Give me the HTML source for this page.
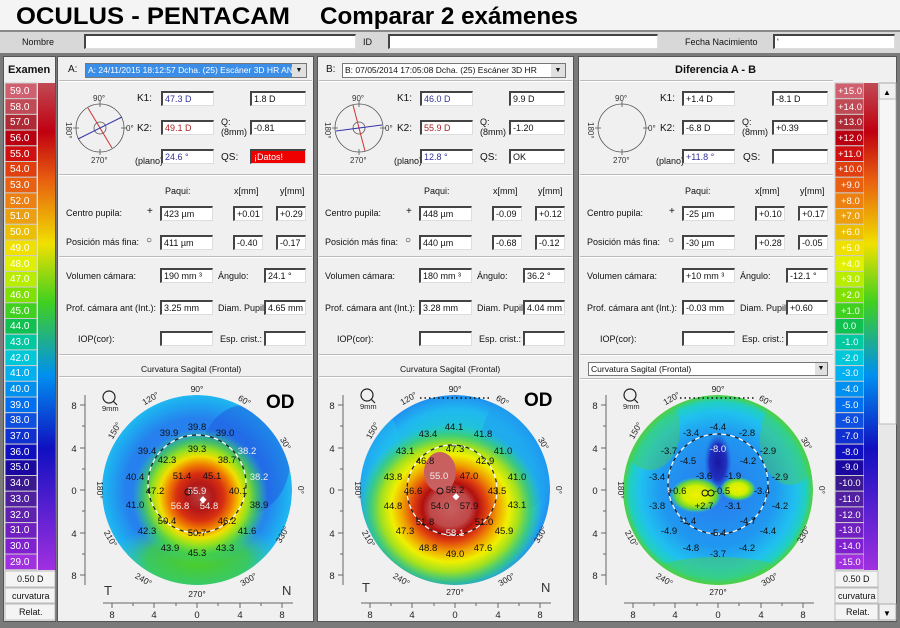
<!DOCTYPE html>
<html><head><meta charset="utf-8">
<style>
*{margin:0;padding:0;box-sizing:border-box}
body{width:900px;height:628px;background:#7a7a7a;position:relative;overflow:hidden;font-family:"Liberation Sans",sans-serif;font-size:9px;color:#111}
.a{position:absolute;white-space:nowrap}
.in{position:absolute;background:#fff;border-top:2px solid #444;border-left:2px solid #444;border-right:1px solid #ddd;border-bottom:1px solid #ddd;font-size:9px;padding-left:2px;line-height:12px;height:15px}
.pan{position:absolute;background:#f0f0f0;border:1px solid #555}
.hl{position:absolute;height:2px;background:#bbb;border-bottom:1px solid #fff}
</style></head><body>
<div class="a" style="left:0;top:0;width:900px;height:30px;background:#f4f4f4"></div>
<svg class="a" style="left:0;top:0" width="900" height="30" font-family="Liberation Sans, sans-serif"><text x="16" y="24" font-size="24" font-weight="bold" textLength="274" lengthAdjust="spacingAndGlyphs">OCULUS - PENTACAM</text><text x="320" y="24" font-size="24" font-weight="bold" textLength="258" lengthAdjust="spacingAndGlyphs">Comparar 2 exámenes</text></svg>
<div class="a" style="left:0;top:30px;width:900px;height:23px;background:#d8d8d8;border-top:2px solid #888"></div>
<div class="a" style="left:22px;top:37px">Nombre</div>
<div class="in" style="left:84px;top:34px;width:272px"></div>
<div class="a" style="left:363px;top:37px">ID</div>
<div class="in" style="left:388px;top:34px;width:270px"></div>
<div class="a" style="left:685px;top:37px">Fecha Nacimiento</div>
<div class="in" style="left:773px;top:34px;width:122px">'</div>

<div class="pan" style="left:3px;top:56px;width:53px;height:566px"></div>
<div class="pan" style="left:57px;top:56px;width:257px;height:566px"></div>
<div class="pan" style="left:317px;top:56px;width:257px;height:566px"></div>
<div class="pan" style="left:578px;top:56px;width:319px;height:566px"></div>

<div class="a" style="left:8px;top:64px;font-size:11px;font-weight:bold">Examen</div>
<div class="a" style="left:68px;top:64px;font-size:10px">A:</div>
<div class="a" style="left:85px;top:63px;width:222px;height:15px;background:#fff;border:1px solid #777"><div style="background:#3a8ee8;color:#fff;width:206px;height:13px;font-size:8.5px;padding-left:2px;line-height:13px;overflow:hidden">A: 24/11/2015 18:12:57 Dcha. (25) Escáner 3D HR AN</div><div style="position:absolute;right:0;top:0;width:14px;height:13px;background:#e0e0e0;font-size:7px;text-align:center;line-height:13px">▼</div></div>
<div class="a" style="left:326px;top:64px;font-size:10px">B:</div>
<div class="a" style="left:342px;top:63px;width:224px;height:15px;background:#fff;border:1px solid #777;font-size:8.5px;line-height:13px;padding-left:2px">B: 07/05/2014 17:05:08 Dcha. (25) Escáner 3D HR<div style="position:absolute;right:0;top:0;width:14px;height:13px;background:#e0e0e0;font-size:7px;text-align:center;line-height:13px">▼</div></div>
<div class="a" style="left:675px;top:64px;font-size:11px;font-weight:bold">Diferencia A - B</div>
<div class="hl" style="left:580px;top:80px;width:253px"></div>
<div class="hl" style="left:59px;top:80px;width:253px"></div>
<div class="hl" style="left:319px;top:80px;width:253px"></div>

<!-- Panel A fields -->
<div class="a" style="left:137px;top:93px;font-size:10px">K1:</div><div class="in" style="left:161px;top:91px;width:53px;color:#339">47.3 D</div><div class="in" style="left:250px;top:91px;width:56px">1.8 D</div>
<div class="a" style="left:137px;top:123px;font-size:10px">K2:</div><div class="in" style="left:161px;top:120px;width:53px;color:#a22">49.1 D</div>
<div class="a" style="left:221px;top:117px">Q:<br>(8mm)</div><div class="in" style="left:250px;top:120px;width:56px">-0.81</div>
<div class="a" style="left:135px;top:156px">(plano)</div><div class="in" style="left:161px;top:149px;width:53px;color:#339">24.6 °</div>
<div class="a" style="left:221px;top:152px;font-size:10px">QS:</div><div class="in" style="left:250px;top:149px;width:56px;background:#e00;color:#fff">¡Datos!</div>
<div class="hl" style="left:59px;top:174px;width:253px"></div>
<div class="a" style="left:165px;top:186px">Paqui:</div><div class="a" style="left:234px;top:186px">x[mm]</div><div class="a" style="left:280px;top:186px">y[mm]</div>
<div class="a" style="left:66px;top:208px">Centro pupila:</div><div class="a" style="left:147px;top:206px;font-size:10px">+</div><div class="in" style="left:160px;top:206px;width:53px">423 µm</div><div class="in" style="left:233px;top:206px;width:30px">+0.01</div><div class="in" style="left:276px;top:206px;width:30px">+0.29</div>
<div class="a" style="left:66px;top:237px">Posición más fina:</div><div class="a" style="left:146px;top:235px;font-size:10px">○</div><div class="in" style="left:160px;top:235px;width:53px">411 µm</div><div class="in" style="left:233px;top:235px;width:30px">-0.40</div><div class="in" style="left:276px;top:235px;width:30px">-0.17</div>
<div class="hl" style="left:59px;top:256px;width:253px"></div>
<div class="a" style="left:66px;top:271px">Volumen cámara:</div><div class="in" style="left:160px;top:268px;width:53px">190 mm ³</div><div class="a" style="left:218px;top:271px">Ángulo:</div><div class="in" style="left:264px;top:268px;width:42px">24.1 °</div>
<div class="a" style="left:66px;top:303px">Prof. cámara ant (Int.):</div><div class="in" style="left:160px;top:300px;width:53px">3.25 mm</div><div class="a" style="left:218px;top:303px">Diam. Pupil:</div><div class="in" style="left:264px;top:300px;width:42px">4.65 mm</div>
<div class="a" style="left:78px;top:334px">IOP(cor):</div><div class="in" style="left:160px;top:331px;width:53px"></div><div class="a" style="left:220px;top:334px">Esp. crist.:</div><div class="in" style="left:264px;top:331px;width:42px"></div>
<div class="hl" style="left:59px;top:354px;width:253px"></div>
<div class="a" style="left:141px;top:364px;font-size:8.5px">Curvatura Sagital (Frontal)</div>
<div class="hl" style="left:59px;top:376px;width:253px"></div>

<!-- Panel B fields -->
<div class="a" style="left:397px;top:93px;font-size:10px">K1:</div><div class="in" style="left:420px;top:91px;width:53px;color:#339">46.0 D</div><div class="in" style="left:509px;top:91px;width:56px">9.9 D</div>
<div class="a" style="left:397px;top:123px;font-size:10px">K2:</div><div class="in" style="left:420px;top:120px;width:53px;color:#a22">55.9 D</div>
<div class="a" style="left:480px;top:117px">Q:<br>(8mm)</div><div class="in" style="left:509px;top:120px;width:56px">-1.20</div>
<div class="a" style="left:394px;top:156px">(plano)</div><div class="in" style="left:420px;top:149px;width:53px;color:#339">12.8 °</div>
<div class="a" style="left:480px;top:152px;font-size:10px">QS:</div><div class="in" style="left:509px;top:149px;width:56px">OK</div>
<div class="hl" style="left:319px;top:174px;width:253px"></div>
<div class="a" style="left:424px;top:186px">Paqui:</div><div class="a" style="left:493px;top:186px">x[mm]</div><div class="a" style="left:538px;top:186px">y[mm]</div>
<div class="a" style="left:325px;top:208px">Centro pupila:</div><div class="a" style="left:406px;top:206px;font-size:10px">+</div><div class="in" style="left:419px;top:206px;width:53px">448 µm</div><div class="in" style="left:492px;top:206px;width:30px">-0.09</div><div class="in" style="left:535px;top:206px;width:30px">+0.12</div>
<div class="a" style="left:325px;top:237px">Posición más fina:</div><div class="a" style="left:405px;top:235px;font-size:10px">○</div><div class="in" style="left:419px;top:235px;width:53px">440 µm</div><div class="in" style="left:492px;top:235px;width:30px">-0.68</div><div class="in" style="left:535px;top:235px;width:30px">-0.12</div>
<div class="hl" style="left:319px;top:256px;width:253px"></div>
<div class="a" style="left:325px;top:271px">Volumen cámara:</div><div class="in" style="left:419px;top:268px;width:53px">180 mm ³</div><div class="a" style="left:477px;top:271px">Ángulo:</div><div class="in" style="left:523px;top:268px;width:42px">36.2 °</div>
<div class="a" style="left:325px;top:303px">Prof. cámara ant (Int.):</div><div class="in" style="left:419px;top:300px;width:53px">3.28 mm</div><div class="a" style="left:477px;top:303px">Diam. Pupil:</div><div class="in" style="left:523px;top:300px;width:42px">4.04 mm</div>
<div class="a" style="left:337px;top:334px">IOP(cor):</div><div class="in" style="left:419px;top:331px;width:53px"></div><div class="a" style="left:479px;top:334px">Esp. crist.:</div><div class="in" style="left:523px;top:331px;width:42px"></div>
<div class="hl" style="left:319px;top:354px;width:253px"></div>
<div class="a" style="left:400px;top:364px;font-size:8.5px">Curvatura Sagital (Frontal)</div>
<div class="hl" style="left:319px;top:376px;width:253px"></div>

<!-- Panel Diff fields -->
<div class="a" style="left:660px;top:93px;font-size:10px">K1:</div><div class="in" style="left:682px;top:91px;width:53px">+1.4 D</div><div class="in" style="left:772px;top:91px;width:56px">-8.1 D</div>
<div class="a" style="left:660px;top:123px;font-size:10px">K2:</div><div class="in" style="left:682px;top:120px;width:53px">-6.8 D</div>
<div class="a" style="left:742px;top:117px">Q:<br>(8mm)</div><div class="in" style="left:772px;top:120px;width:56px">+0.39</div>
<div class="a" style="left:656px;top:156px">(plano)</div><div class="in" style="left:682px;top:149px;width:53px;color:#339">+11.8 °</div>
<div class="a" style="left:743px;top:152px;font-size:10px">QS:</div><div class="in" style="left:772px;top:149px;width:56px"></div>
<div class="hl" style="left:580px;top:174px;width:253px"></div>
<div class="a" style="left:685px;top:186px">Paqui:</div><div class="a" style="left:755px;top:186px">x[mm]</div><div class="a" style="left:800px;top:186px">y[mm]</div>
<div class="a" style="left:587px;top:208px">Centro pupila:</div><div class="a" style="left:669px;top:206px;font-size:10px">+</div><div class="in" style="left:682px;top:206px;width:53px">-25 µm</div><div class="in" style="left:755px;top:206px;width:30px">+0.10</div><div class="in" style="left:798px;top:206px;width:30px">+0.17</div>
<div class="a" style="left:587px;top:237px">Posición más fina:</div><div class="a" style="left:668px;top:235px;font-size:10px">○</div><div class="in" style="left:682px;top:235px;width:53px">-30 µm</div><div class="in" style="left:755px;top:235px;width:30px">+0.28</div><div class="in" style="left:798px;top:235px;width:30px">-0.05</div>
<div class="hl" style="left:580px;top:256px;width:253px"></div>
<div class="a" style="left:587px;top:271px">Volumen cámara:</div><div class="in" style="left:682px;top:268px;width:53px">+10 mm ³</div><div class="a" style="left:740px;top:271px">Ángulo:</div><div class="in" style="left:786px;top:268px;width:42px">-12.1 °</div>
<div class="a" style="left:587px;top:303px">Prof. cámara ant (Int.):</div><div class="in" style="left:682px;top:300px;width:53px">-0.03 mm</div><div class="a" style="left:740px;top:303px">Diam. Pupil:</div><div class="in" style="left:786px;top:300px;width:42px;overflow:hidden">+0.60 mm</div>
<div class="a" style="left:600px;top:334px">IOP(cor):</div><div class="in" style="left:682px;top:331px;width:53px"></div><div class="a" style="left:742px;top:334px">Esp. crist.:</div><div class="in" style="left:786px;top:331px;width:42px"></div>
<div class="hl" style="left:580px;top:354px;width:253px"></div>
<div class="a" style="left:588px;top:362px;width:240px;height:14px;background:#fff;border:1px solid #777;font-size:8.5px;line-height:12px;padding-left:2px">Curvatura Sagital (Frontal)<div style="position:absolute;right:0;top:0;width:12px;height:12px;background:#e0e0e0;font-size:7px;text-align:center">▼</div></div>
<div class="hl" style="left:580px;top:378px;width:253px"></div>

<svg class="a" style="left:0;top:0" width="900" height="628" font-family="Liberation Sans, sans-serif">
<defs>
<radialGradient id="ga" cx="0.5" cy="0.5" r="0.5"><stop offset="0" stop-color="#2a7ef0"/><stop offset="0.75" stop-color="#2680ee"/><stop offset="0.92" stop-color="#1ea8f0"/><stop offset="1" stop-color="#20b8f0"/></radialGradient>
<radialGradient id="ga2" cx="0.5" cy="0.5" r="0.5"><stop offset="0" stop-color="#b54040"/><stop offset="0.2" stop-color="#b41818"/><stop offset="0.35" stop-color="#d83010"/><stop offset="0.48" stop-color="#f08000"/><stop offset="0.6" stop-color="#f0e000"/><stop offset="0.72" stop-color="#90e020"/><stop offset="0.85" stop-color="#40d050" stop-opacity="0.7"/><stop offset="1" stop-color="#30c8a0" stop-opacity="0"/></radialGradient>
<radialGradient id="gg" cx="0.5" cy="0.5" r="0.5"><stop offset="0" stop-color="#50d020"/><stop offset="0.6" stop-color="#40d040" stop-opacity="0.8"/><stop offset="1" stop-color="#30c8c0" stop-opacity="0"/></radialGradient>
<radialGradient id="gb" cx="0.5" cy="0.5" r="0.5"><stop offset="0" stop-color="#30d080"/><stop offset="0.6" stop-color="#20c8d0"/><stop offset="0.85" stop-color="#20b8f0"/><stop offset="1" stop-color="#2090f0"/></radialGradient>
<radialGradient id="gb2" cx="0.5" cy="0.5" r="0.5"><stop offset="0" stop-color="#c86060"/><stop offset="0.22" stop-color="#c04848"/><stop offset="0.3" stop-color="#b01010"/><stop offset="0.4" stop-color="#e04010"/><stop offset="0.52" stop-color="#f0a000"/><stop offset="0.64" stop-color="#f0f000"/><stop offset="0.76" stop-color="#a0e020"/><stop offset="0.88" stop-color="#40d060" stop-opacity="0.7"/><stop offset="1" stop-color="#30d0a0" stop-opacity="0"/></radialGradient>
<radialGradient id="gd" cx="0.5" cy="0.5" r="0.5"><stop offset="0" stop-color="#2a78f0"/><stop offset="0.6" stop-color="#2098f0"/><stop offset="0.82" stop-color="#20c0f0"/><stop offset="0.93" stop-color="#20d0c0"/><stop offset="1" stop-color="#50d040"/></radialGradient>
<radialGradient id="gy" cx="0.5" cy="0.5" r="0.5"><stop offset="0" stop-color="#f0f000"/><stop offset="0.5" stop-color="#d0f000"/><stop offset="0.8" stop-color="#60d040"/><stop offset="1" stop-color="#30c8c0" stop-opacity="0"/></radialGradient>
<radialGradient id="gdb" cx="0.5" cy="0.5" r="0.5"><stop offset="0" stop-color="#1818a0"/><stop offset="0.6" stop-color="#2030c0"/><stop offset="1" stop-color="#2070e0" stop-opacity="0"/></radialGradient>
<linearGradient id="lb" x1="0" y1="0" x2="0" y2="1"><stop offset="0" stop-color="#c04a55"/><stop offset="0.1" stop-color="#c00010"/><stop offset="0.2" stop-color="#e86010"/><stop offset="0.33" stop-color="#f0e000"/><stop offset="0.45" stop-color="#40d020"/><stop offset="0.6" stop-color="#0090f0"/><stop offset="0.75" stop-color="#1010c0"/><stop offset="1" stop-color="#a030e0"/></linearGradient>
<clipPath id="ca"><circle cx="197" cy="490" r="95"/></clipPath>
<clipPath id="cb"><circle cx="455" cy="490" r="95"/></clipPath>
<clipPath id="cd"><circle cx="718" cy="490" r="95"/></clipPath>
</defs>

<!-- left colorbar -->
<g font-size="10" fill="#fff">
<g stroke="#ccc" stroke-width="1">
<rect x="5" y="83" width="32" height="15.7" fill="#d06070"/><rect x="5" y="98.7" width="32" height="15.7" fill="#c04a55"/><rect x="5" y="114.4" width="32" height="15.7" fill="#b02a35"/><rect x="5" y="130.1" width="32" height="15.7" fill="#b80010"/><rect x="5" y="145.8" width="32" height="15.7" fill="#d01010"/><rect x="5" y="161.5" width="32" height="15.7" fill="#e04010"/><rect x="5" y="177.2" width="32" height="15.7" fill="#e86010"/><rect x="5" y="192.9" width="32" height="15.7" fill="#ec8010"/><rect x="5" y="208.6" width="32" height="15.7" fill="#eca010"/><rect x="5" y="224.3" width="32" height="15.7" fill="#ecc000"/><rect x="5" y="240" width="32" height="15.7" fill="#f0e000"/><rect x="5" y="255.7" width="32" height="15.7" fill="#e0f000"/><rect x="5" y="271.4" width="32" height="15.7" fill="#b8ec00"/><rect x="5" y="287.1" width="32" height="15.7" fill="#80e000"/><rect x="5" y="302.8" width="32" height="15.7" fill="#40d020"/><rect x="5" y="318.5" width="32" height="15.7" fill="#10c050"/><rect x="5" y="334.2" width="32" height="15.7" fill="#00c8a0"/><rect x="5" y="349.9" width="32" height="15.7" fill="#00c8d8"/><rect x="5" y="365.6" width="32" height="15.7" fill="#00b0f0"/><rect x="5" y="381.3" width="32" height="15.7" fill="#0090f0"/><rect x="5" y="397" width="32" height="15.7" fill="#0070f0"/><rect x="5" y="412.7" width="32" height="15.7" fill="#1050e0"/><rect x="5" y="428.4" width="32" height="15.7" fill="#1030d0"/><rect x="5" y="444.1" width="32" height="15.7" fill="#1010c0"/><rect x="5" y="459.8" width="32" height="15.7" fill="#1a08a0"/><rect x="5" y="475.5" width="32" height="15.7" fill="#3a1890"/><rect x="5" y="491.2" width="32" height="15.7" fill="#5020a0"/><rect x="5" y="506.9" width="32" height="15.7" fill="#6020b0"/><rect x="5" y="522.6" width="32" height="15.7" fill="#7020c0"/><rect x="5" y="538.3" width="32" height="15.7" fill="#8020d0"/><rect x="5" y="554" width="32" height="15.7" fill="#a030e0"/>
</g>
<rect x="38" y="83" width="17" height="487" fill="url(#lb)"/>
<text x="10" y="94">59.0</text><text x="10" y="110">58.0</text><text x="10" y="125">57.0</text><text x="10" y="141">56.0</text><text x="10" y="157">55.0</text><text x="10" y="172">54.0</text><text x="10" y="188">53.0</text><text x="10" y="204">52.0</text><text x="10" y="219">51.0</text><text x="10" y="235">50.0</text><text x="10" y="251">49.0</text><text x="10" y="267">48.0</text><text x="10" y="282">47.0</text><text x="10" y="298">46.0</text><text x="10" y="314">45.0</text><text x="10" y="329">44.0</text><text x="10" y="345">43.0</text><text x="10" y="361">42.0</text><text x="10" y="376">41.0</text><text x="10" y="392">40.0</text><text x="10" y="408">39.0</text><text x="10" y="423">38.0</text><text x="10" y="439">37.0</text><text x="10" y="455">36.0</text><text x="10" y="470">35.0</text><text x="10" y="486">34.0</text><text x="10" y="502">33.0</text><text x="10" y="518">32.0</text><text x="10" y="533">31.0</text><text x="10" y="549">30.0</text><text x="10" y="565">29.0</text>
</g>
<g fill="#111" font-size="9"><rect x="5" y="571" width="50" height="16" fill="#f4f4f4" stroke="#bbb"/><text x="17" y="582">0.50 D</text><rect x="5" y="588" width="50" height="15" fill="#f4f4f4" stroke="#bbb"/><text x="12" y="599">curvatura</text><rect x="5" y="604" width="50" height="16" fill="#f4f4f4" stroke="#bbb"/><text x="19" y="615">Relat.</text></g>

<!-- right colorbar -->
<g font-size="9.5" fill="#fff">
<g stroke="#ccc" stroke-width="1">
<rect x="835" y="83" width="29" height="15.7" fill="#d06070"/><rect x="835" y="98.7" width="29" height="15.7" fill="#c04a55"/><rect x="835" y="114.4" width="29" height="15.7" fill="#b02a35"/><rect x="835" y="130.1" width="29" height="15.7" fill="#b80010"/><rect x="835" y="145.8" width="29" height="15.7" fill="#d01010"/><rect x="835" y="161.5" width="29" height="15.7" fill="#e04010"/><rect x="835" y="177.2" width="29" height="15.7" fill="#e86010"/><rect x="835" y="192.9" width="29" height="15.7" fill="#ec8010"/><rect x="835" y="208.6" width="29" height="15.7" fill="#eca010"/><rect x="835" y="224.3" width="29" height="15.7" fill="#ecc000"/><rect x="835" y="240" width="29" height="15.7" fill="#f0e000"/><rect x="835" y="255.7" width="29" height="15.7" fill="#e0f000"/><rect x="835" y="271.4" width="29" height="15.7" fill="#b8ec00"/><rect x="835" y="287.1" width="29" height="15.7" fill="#80e000"/><rect x="835" y="302.8" width="29" height="15.7" fill="#40d020"/><rect x="835" y="318.5" width="29" height="15.7" fill="#10c050"/><rect x="835" y="334.2" width="29" height="15.7" fill="#00c8a0"/><rect x="835" y="349.9" width="29" height="15.7" fill="#00c8d8"/><rect x="835" y="365.6" width="29" height="15.7" fill="#00b0f0"/><rect x="835" y="381.3" width="29" height="15.7" fill="#0090f0"/><rect x="835" y="397" width="29" height="15.7" fill="#0070f0"/><rect x="835" y="412.7" width="29" height="15.7" fill="#1050e0"/><rect x="835" y="428.4" width="29" height="15.7" fill="#1030d0"/><rect x="835" y="444.1" width="29" height="15.7" fill="#1010c0"/><rect x="835" y="459.8" width="29" height="15.7" fill="#1a08a0"/><rect x="835" y="475.5" width="29" height="15.7" fill="#3a1890"/><rect x="835" y="491.2" width="29" height="15.7" fill="#5020a0"/><rect x="835" y="506.9" width="29" height="15.7" fill="#6020b0"/><rect x="835" y="522.6" width="29" height="15.7" fill="#7020c0"/><rect x="835" y="538.3" width="29" height="15.7" fill="#8020d0"/><rect x="835" y="554" width="29" height="15.7" fill="#a030e0"/>
</g>
<rect x="864" y="83" width="14" height="487" fill="url(#lb)"/>
<text x="838" y="94">+15.0</text><text x="838" y="110">+14.0</text><text x="838" y="125">+13.0</text><text x="838" y="141">+12.0</text><text x="838" y="157">+11.0</text><text x="838" y="172">+10.0</text><text x="841" y="188">+9.0</text><text x="841" y="204">+8.0</text><text x="841" y="219">+7.0</text><text x="841" y="235">+6.0</text><text x="841" y="251">+5.0</text><text x="841" y="267">+4.0</text><text x="841" y="282">+3.0</text><text x="841" y="298">+2.0</text><text x="841" y="314">+1.0</text><text x="843" y="329">0.0</text><text x="842" y="345">-1.0</text><text x="842" y="361">-2.0</text><text x="842" y="376">-3.0</text><text x="842" y="392">-4.0</text><text x="842" y="408">-5.0</text><text x="842" y="423">-6.0</text><text x="842" y="439">-7.0</text><text x="842" y="455">-8.0</text><text x="842" y="470">-9.0</text><text x="839" y="486">-10.0</text><text x="839" y="502">-11.0</text><text x="839" y="518">-12.0</text><text x="839" y="533">-13.0</text><text x="839" y="549">-14.0</text><text x="839" y="565">-15.0</text>
</g>
<g fill="#111" font-size="9"><rect x="835" y="571" width="43" height="16" fill="#f4f4f4" stroke="#bbb"/><text x="843" y="582">0.50 D</text><rect x="835" y="588" width="43" height="15" fill="#f4f4f4" stroke="#bbb"/><text x="838" y="599">curvatura</text><rect x="835" y="604" width="43" height="16" fill="#f4f4f4" stroke="#bbb"/><text x="846" y="615">Relat.</text></g>
<rect x="879" y="83" width="17" height="537" fill="#e8e8e8"/><rect x="879" y="83" width="17" height="16" fill="#f0f0f0" stroke="#aaa"/><text x="883" y="95" font-size="8">▲</text><rect x="879" y="99" width="17" height="325" fill="#f6f6f6" stroke="#bbb"/><rect x="879" y="604" width="17" height="16" fill="#f0f0f0" stroke="#aaa"/><text x="883" y="616" font-size="8">▼</text>

<!-- small axis diagrams -->
<g fill="none" stroke="#555" stroke-width="0.8">
<circle cx="100" cy="128" r="24"/><circle cx="100" cy="128" r="6"/><line x1="88" y1="108" x2="112" y2="148" stroke="#c33" stroke-width="1"/><line x1="78" y1="139" x2="122" y2="117" stroke="#33a" stroke-width="1"/>
<circle cx="359" cy="128" r="24"/><circle cx="359" cy="128" r="6"/><line x1="353" y1="105" x2="365" y2="151" stroke="#c33" stroke-width="1"/><line x1="336" y1="131" x2="382" y2="125" stroke="#33a" stroke-width="1"/>
<circle cx="622" cy="128" r="24"/>
<path d="M100 101v6M100 149v6M73 128h6M121 128h6M359 101v6M359 149v6M332 128h6M380 128h6M622 101v6M622 149v6M595 128h6M643 128h6"/>
</g>
<g font-size="8" fill="#333"><text x="93" y="101">90°</text><text x="91" y="163">270°</text><text x="126" y="131">0°</text><text x="66" y="122" transform="rotate(90 66 122)">180°</text>
<text x="352" y="101">90°</text><text x="350" y="163">270°</text><text x="385" y="131">0°</text><text x="325" y="122" transform="rotate(90 325 122)">180°</text>
<text x="615" y="101">90°</text><text x="613" y="163">270°</text><text x="648" y="131">0°</text><text x="588" y="122" transform="rotate(90 588 122)">180°</text></g>

<!-- map A -->
<g clip-path="url(#ca)">
<circle cx="197" cy="490" r="95" fill="url(#ga)"/>
<ellipse cx="245" cy="460" rx="45" ry="55" fill="#2058e0" opacity="0.5"/>
<ellipse cx="197" cy="560" rx="85" ry="40" fill="url(#gg)"/>
<circle cx="200" cy="497" r="68" fill="url(#ga2)"/>
</g>
<!-- map B -->
<g clip-path="url(#cb)">
<circle cx="455" cy="490" r="95" fill="url(#gb)"/>
<ellipse cx="520" cy="450" rx="40" ry="60" fill="#20a0f0" opacity="0.6"/>
<ellipse cx="380" cy="480" rx="25" ry="70" fill="#20c0f0" opacity="0.5"/>
<ellipse cx="450" cy="508" rx="92" ry="84" fill="url(#gb2)"/>
<ellipse cx="440" cy="472" rx="16" ry="20" fill="#c86060"/>
</g>
<!-- map Diff -->
<g clip-path="url(#cd)">
<circle cx="718" cy="490" r="95" fill="url(#gd)"/>
<ellipse cx="650" cy="430" rx="30" ry="40" fill="#50d040" opacity="0.4"/>
<ellipse cx="790" cy="440" rx="30" ry="45" fill="#50d040" opacity="0.4"/>
<ellipse cx="718" cy="575" rx="70" ry="18" fill="#50d040" opacity="0.45"/>
<ellipse cx="718" cy="462" rx="14" ry="30" fill="url(#gdb)"/>
<ellipse cx="696" cy="495" rx="26" ry="18" fill="url(#gy)"/>
<ellipse cx="738" cy="489" rx="18" ry="12" fill="url(#gy)"/>
</g>
<!-- dashed circles -->
<g fill="none" stroke-width="1.2" stroke-dasharray="5 4">
<circle cx="197" cy="484" r="49" stroke="#222"/><circle cx="197" cy="484" r="49" stroke="#fff" stroke-dashoffset="4.5"/>
<circle cx="452" cy="490" r="45" stroke="#222"/><circle cx="452" cy="490" r="45" stroke="#fff" stroke-dashoffset="4.5"/>
<circle cx="718" cy="484" r="50" stroke="#222"/><circle cx="718" cy="484" r="50" stroke="#fff" stroke-dashoffset="4.5"/>
</g>
<path d="M420 398h70M680 398h76" stroke="#111" stroke-width="1.5" stroke-dasharray="1.5 3"/>

<!-- map labels -->
<g font-size="9.5" text-anchor="middle" fill="#111">
<text x="197" y="430">39.8</text><text x="169" y="436">39.9</text><text x="225" y="436">39.0</text><text x="147" y="454">39.4</text><text x="197" y="452">39.3</text><text x="247" y="454" fill="#eee">38.2</text><text x="167" y="463">42.3</text><text x="227" y="463">38.7</text><text x="135" y="480">40.4</text><text x="182" y="479">51.4</text><text x="212" y="479">45.1</text><text x="259" y="480" fill="#eee">38.2</text><text x="155" y="494">47.2</text><text x="197" y="494" fill="#eee">55.9</text><text x="238" y="494">40.1</text><text x="135" y="508">41.0</text><text x="180" y="509" fill="#eee">56.8</text><text x="209" y="509" fill="#eee">54.8</text><text x="259" y="508">38.9</text><text x="167" y="524">50.4</text><text x="227" y="524">46.2</text><text x="147" y="534">42.3</text><text x="197" y="536">50.7</text><text x="247" y="534">41.6</text><text x="170" y="551">43.9</text><text x="225" y="551">43.3</text><text x="197" y="556">45.3</text>

<text x="454" y="430">44.1</text><text x="428" y="437">43.4</text><text x="483" y="437">41.8</text><text x="405" y="454">43.1</text><text x="455" y="452">47.3</text><text x="503" y="454">41.0</text><text x="425" y="464">46.8</text><text x="485" y="464">42.9</text><text x="393" y="480">43.8</text><text x="439" y="479" fill="#eee">55.0</text><text x="469" y="479">47.0</text><text x="517" y="480">41.0</text><text x="413" y="494">46.6</text><text x="455" y="493">56.2</text><text x="497" y="494">43.5</text><text x="393" y="509">44.8</text><text x="440" y="509">54.0</text><text x="469" y="509">57.9</text><text x="517" y="508">43.1</text><text x="425" y="525">51.8</text><text x="484" y="525">51.0</text><text x="405" y="534">47.3</text><text x="455" y="536" fill="#eee">58.1</text><text x="504" y="534">45.9</text><text x="428" y="551">48.8</text><text x="483" y="551">47.6</text><text x="455" y="557">49.0</text>

<text x="718" y="430">-4.4</text><text x="691" y="436">-3.4</text><text x="747" y="436">-2.8</text><text x="669" y="454">-3.7</text><text x="718" y="452" fill="#eee">-8.0</text><text x="768" y="454">-2.9</text><text x="688" y="464">-4.5</text><text x="748" y="464">-4.2</text><text x="657" y="480">-3.4</text><text x="704" y="479">-3.6</text><text x="733" y="479">-1.9</text><text x="780" y="480">-2.9</text><text x="677" y="494">+0.6</text><text x="722" y="494">-0.5</text><text x="762" y="494">-3.4</text><text x="657" y="509">-3.8</text><text x="704" y="509">+2.7</text><text x="733" y="509">-3.1</text><text x="780" y="509">-4.2</text><text x="688" y="524">-1.4</text><text x="748" y="524">-4.7</text><text x="669" y="534">-4.9</text><text x="718" y="536">-5.4</text><text x="768" y="534">-4.4</text><text x="691" y="551">-4.8</text><text x="747" y="551">-4.2</text><text x="718" y="557">-3.7</text>
</g>
<g fill="none" stroke="#111"><circle cx="188" cy="492" r="3"/><circle cx="440" cy="491" r="3"/><circle cx="705" cy="493" r="3"/><circle cx="711" cy="493" r="3"/></g>
<g fill="#fff"><rect x="201" y="497" width="5" height="5" transform="rotate(45 203 499)"/><rect x="454" y="494" width="5" height="5" transform="rotate(45 456 496)"/></g>

<!-- OD, magnifier -->
<g font-size="19" font-weight="bold"><text x="266" y="408">OD</text><text x="524" y="406">OD</text></g>
<g fill="none" stroke="#222" stroke-width="1.2"><circle cx="109" cy="397" r="6"/><line x1="113" y1="401" x2="117" y2="405"/><circle cx="367" cy="395" r="6"/><line x1="371" y1="399" x2="375" y2="403"/><circle cx="630" cy="395" r="6"/><line x1="634" y1="399" x2="638" y2="403"/></g>
<g font-size="7.5" fill="#222"><text x="102" y="411">9mm</text><text x="360" y="409">9mm</text><text x="623" y="409">9mm</text></g>

<!-- angle labels -->
<g font-size="8.5" fill="#222" text-anchor="middle">
<text x="197" y="392">90°</text><text x="197" y="597">270°</text><text x="152" y="401" transform="rotate(-30 152 401)">120°</text><text x="243" y="403" transform="rotate(30 243 403)">60°</text><text x="117" y="432" transform="rotate(-60 117 432)">150°</text><text x="283" y="445" transform="rotate(60 283 445)">30°</text><text x="97" y="490" transform="rotate(90 97 490)">180°</text><text x="298" y="490" transform="rotate(90 298 490)">0°</text><text x="108" y="540" transform="rotate(60 108 540)">210°</text><text x="285" y="536" transform="rotate(-60 285 536)">330°</text><text x="142" y="582" transform="rotate(30 142 582)">240°</text><text x="250" y="582" transform="rotate(-30 250 582)">300°</text>
<text x="455" y="392">90°</text><text x="455" y="595">270°</text><text x="410" y="401" transform="rotate(-30 410 401)">120°</text><text x="501" y="403" transform="rotate(30 501 403)">60°</text><text x="375" y="432" transform="rotate(-60 375 432)">150°</text><text x="541" y="445" transform="rotate(60 541 445)">30°</text><text x="355" y="490" transform="rotate(90 355 490)">180°</text><text x="556" y="490" transform="rotate(90 556 490)">0°</text><text x="366" y="540" transform="rotate(60 366 540)">210°</text><text x="543" y="536" transform="rotate(-60 543 536)">330°</text><text x="400" y="582" transform="rotate(30 400 582)">240°</text><text x="508" y="582" transform="rotate(-30 508 582)">300°</text>
<text x="718" y="392">90°</text><text x="718" y="595">270°</text><text x="673" y="401" transform="rotate(-30 673 401)">120°</text><text x="764" y="403" transform="rotate(30 764 403)">60°</text><text x="638" y="432" transform="rotate(-60 638 432)">150°</text><text x="804" y="445" transform="rotate(60 804 445)">30°</text><text x="618" y="490" transform="rotate(90 618 490)">180°</text><text x="819" y="490" transform="rotate(90 819 490)">0°</text><text x="629" y="540" transform="rotate(60 629 540)">210°</text><text x="806" y="536" transform="rotate(-60 806 536)">330°</text><text x="663" y="582" transform="rotate(30 663 582)">240°</text><text x="771" y="582" transform="rotate(-30 771 582)">300°</text>
</g>
<g font-size="13" fill="#333"><text x="104" y="595">T</text><text x="282" y="595">N</text><text x="362" y="592">T</text><text x="541" y="592">N</text></g>

<!-- axes -->
<g stroke="#666" stroke-width="1" fill="none">
<path d="M85 395v190M80 405h5M82 426h3M80 448h5M82 469h3M80 490h5M82 511h3M80 533h5M82 554h3M80 575h5"/>
<path d="M103 603h190M112 603v5M133 603v3M154 603v5M176 603v3M197 603v5M218 603v3M240 603v5M261 603v3M282 603v5"/>
<path d="M343 395v190M338 405h5M340 426h3M338 448h5M340 469h3M338 490h5M340 511h3M338 533h5M340 554h3M338 575h5"/>
<path d="M361 603h190M370 603v5M391 603v3M412 603v5M434 603v3M455 603v5M476 603v3M498 603v5M519 603v3M540 603v5"/>
<path d="M606 395v190M601 405h5M603 426h3M601 448h5M603 469h3M601 490h5M603 511h3M601 533h5M603 554h3M601 575h5"/>
<path d="M624 603h190M633 603v5M654 603v3M675 603v5M697 603v3M718 603v5M739 603v3M761 603v5M782 603v3M803 603v5"/>
</g>
<g font-size="9.5" fill="#222" text-anchor="middle">
<text x="74" y="409">8</text><text x="74" y="452">4</text><text x="74" y="494">0</text><text x="74" y="537">4</text><text x="74" y="579">8</text>
<text x="112" y="618">8</text><text x="154" y="618">4</text><text x="197" y="618">0</text><text x="240" y="618">4</text><text x="282" y="618">8</text>
<text x="332" y="409">8</text><text x="332" y="452">4</text><text x="332" y="494">0</text><text x="332" y="537">4</text><text x="332" y="579">8</text>
<text x="370" y="618">8</text><text x="412" y="618">4</text><text x="455" y="618">0</text><text x="498" y="618">4</text><text x="540" y="618">8</text>
<text x="595" y="409">8</text><text x="595" y="452">4</text><text x="595" y="494">0</text><text x="595" y="537">4</text><text x="595" y="579">8</text>
<text x="633" y="618">8</text><text x="675" y="618">4</text><text x="718" y="618">0</text><text x="761" y="618">4</text><text x="803" y="618">8</text>
</g>
</svg>
</body></html>
